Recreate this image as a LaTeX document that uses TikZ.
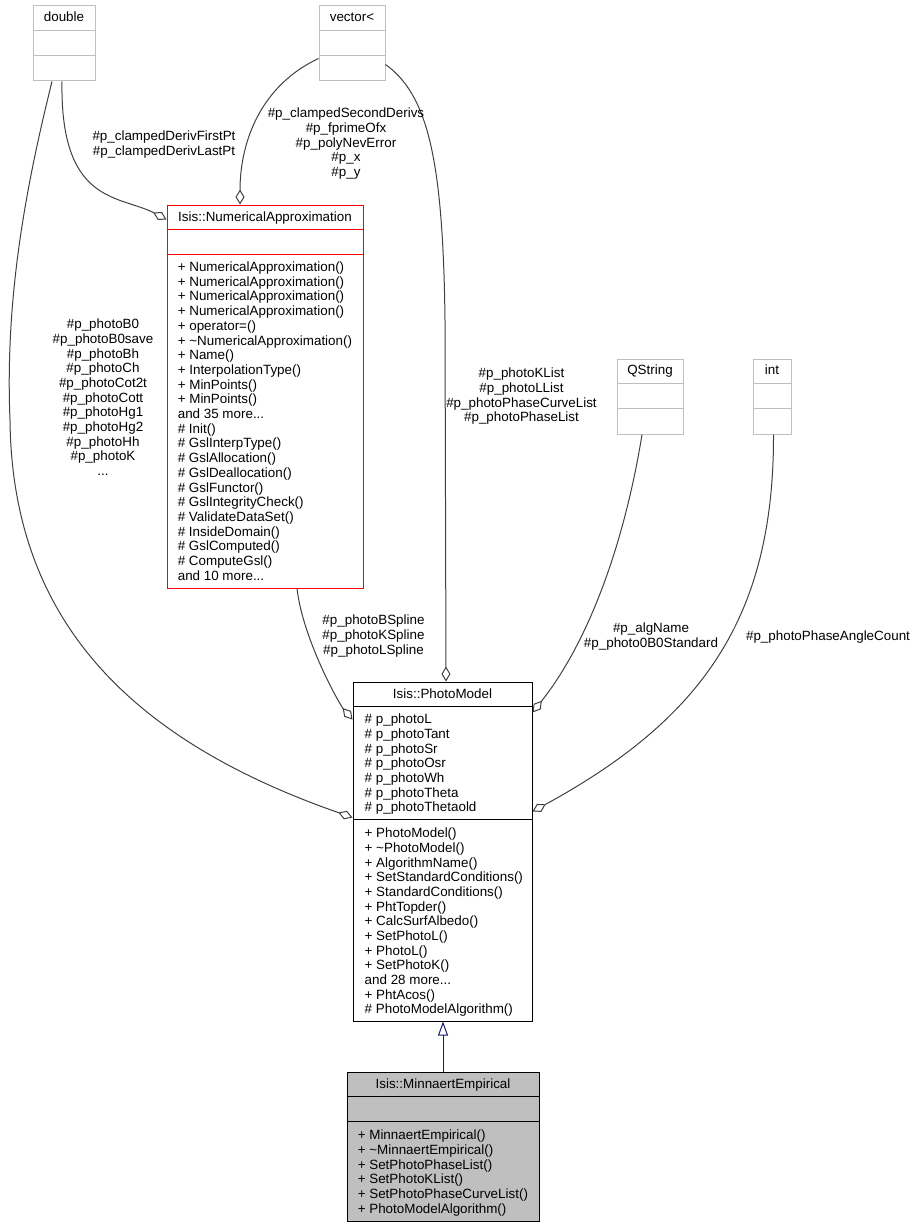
\documentclass[tikz,border=0pt]{standalone}
\usepackage{fontspec}
\setmainfont{Liberation Sans}
\usetikzlibrary{arrows.meta}
\definecolor{edgegray}{HTML}{404040}
\definecolor{boxgray}{HTML}{BFBFBF}
\definecolor{boxred}{HTML}{FF0000}
\definecolor{fillgray}{HTML}{BFBFBF}
\definecolor{navyline}{HTML}{191970}
\newcommand\mydots{...}
\tikzset{
  txt/.style={font=\fontsize{13.4}{14.67}\selectfont, inner sep=0pt},
  mem/.style={txt, anchor=base west},
  ttl/.style={txt, anchor=base},
  lbl/.style={txt, align=center},
  classbox/.style={draw, line width=1pt, inner sep=0pt},
  agg/.style={draw=edgegray, line width=1pt, -{Diamond[open, length=15pt, width=9pt]}},
  inh/.style={draw=navyline, line width=1pt, -{Triangle[open, length=14pt, width=10pt]}},
}
\begin{document}
\begin{tikzpicture}[x=1pt,y=-1pt]
\useasboundingbox (0,0) rectangle (916,1228);

% ---------- double ----------
\node[classbox, draw=boxgray, minimum width=62pt, minimum height=75pt] (dbl) at (64,43.5) {};
\draw[boxgray, line width=1pt] ([yshift=-25pt]dbl.north west) -- ([yshift=-25pt]dbl.north east);
\draw[boxgray, line width=1pt] ([yshift=-50pt]dbl.north west) -- ([yshift=-50pt]dbl.north east);
\node[ttl] (dblT) at ([yshift=-16pt]dbl.north) {double};

% ---------- vector< ----------
\node[classbox, draw=boxgray, minimum width=66pt, minimum height=75pt] (vec) at (352,43.5) {};
\draw[boxgray, line width=1pt] ([yshift=-25pt]vec.north west) -- ([yshift=-25pt]vec.north east);
\draw[boxgray, line width=1pt] ([yshift=-50pt]vec.north west) -- ([yshift=-50pt]vec.north east);
\node[ttl] (vecT) at ([yshift=-16pt]vec.north) {vector<};

% ---------- QString ----------
\node[classbox, draw=boxgray, minimum width=66pt, minimum height=75pt] (qs) at (650,396.5) {};
\draw[boxgray, line width=1pt] ([yshift=-25pt]qs.north west) -- ([yshift=-25pt]qs.north east);
\draw[boxgray, line width=1pt] ([yshift=-50pt]qs.north west) -- ([yshift=-50pt]qs.north east);
\node[ttl] (qsT) at ([yshift=-16pt]qs.north) {QString};

% ---------- int ----------
\node[classbox, draw=boxgray, minimum width=38pt, minimum height=75pt] (int) at (772,396.5) {};
\draw[boxgray, line width=1pt] ([yshift=-25pt]int.north west) -- ([yshift=-25pt]int.north east);
\draw[boxgray, line width=1pt] ([yshift=-50pt]int.north west) -- ([yshift=-50pt]int.north east);
\node[ttl] (intT) at ([yshift=-16pt]int.north) {int};

% ---------- Isis::NumericalApproximation ----------
\node[classbox, draw=boxred, minimum width=196pt, minimum height=383pt] (na) at (265,396.5) {};
\draw[boxred, line width=1pt] ([yshift=-25pt]na.north west) -- ([yshift=-25pt]na.north east);
\draw[boxred, line width=1pt] ([yshift=-50pt]na.north west) -- ([yshift=-50pt]na.north east);
\node[ttl] (naT) at ([yshift=-16.5pt]na.north) {Isis::NumericalApproximation};
\foreach [count=\i] \t in {
  {+ NumericalApproximation()},
  {+ NumericalApproximation()},
  {+ NumericalApproximation()},
  {+ NumericalApproximation()},
  {+ operator=()},
  {+ \textasciitilde NumericalApproximation()},
  {+ Name()},
  {+ InterpolationType()},
  {+ MinPoints()},
  {+ MinPoints()},
  {and 35 more\mydots},
  {\# Init()},
  {\# GslInterpType()},
  {\# GslAllocation()},
  {\# GslDeallocation()},
  {\# GslFunctor()},
  {\# GslIntegrityCheck()},
  {\# ValidateDataSet()},
  {\# InsideDomain()},
  {\# GslComputed()},
  {\# ComputeGsl()},
  {and 10 more\mydots}}
  \node[mem] (naM\i) at ({177.6},{271.5+14.7*(\i-1)}) {\t};

% ---------- Isis::PhotoModel ----------
\node[classbox, draw=black, minimum width=179pt, minimum height=339pt] (pm) at (442.5,851.5) {};
\draw[black, line width=1pt] ([yshift=-25pt]pm.north west) -- ([yshift=-25pt]pm.north east);
\draw[black, line width=1pt] ([yshift=-138pt]pm.north west) -- ([yshift=-138pt]pm.north east);
\node[ttl] (pmT) at ([yshift=-16.5pt]pm.north) {Isis::PhotoModel};
\foreach [count=\i] \t in {
  {\# p\_photoL},
  {\# p\_photoTant},
  {\# p\_photoSr},
  {\# p\_photoOsr},
  {\# p\_photoWh},
  {\# p\_photoTheta},
  {\# p\_photoThetaold}}
  \node[mem] (pmA\i) at ({364.5},{723.8+14.67*(\i-1)}) {\t};
\foreach [count=\i] \t in {
  {+ PhotoModel()},
  {+ \textasciitilde PhotoModel()},
  {+ AlgorithmName()},
  {+ SetStandardConditions()},
  {+ StandardConditions()},
  {+ PhtTopder()},
  {+ CalcSurfAlbedo()},
  {+ SetPhotoL()},
  {+ PhotoL()},
  {+ SetPhotoK()},
  {and 28 more\mydots},
  {+ PhtAcos()},
  {\# PhotoModelAlgorithm()}}
  \node[mem] (pmM\i) at ({364.5},{837.8+14.67*(\i-1)}) {\t};

% ---------- Isis::MinnaertEmpirical ----------
\node[classbox, draw=black, fill=fillgray, minimum width=192pt, minimum height=149pt] (me) at (443,1146.5) {};
\draw[black, line width=1pt] ([yshift=-25pt]me.north west) -- ([yshift=-25pt]me.north east);
\draw[black, line width=1pt] ([yshift=-50pt]me.north west) -- ([yshift=-50pt]me.north east);
\node[ttl] (meT) at ([yshift=-16.5pt]me.north) {Isis::MinnaertEmpirical};
\foreach [count=\i] \t in {
  {+ MinnaertEmpirical()},
  {+ \textasciitilde MinnaertEmpirical()},
  {+ SetPhotoPhaseList()},
  {+ SetPhotoKList()},
  {+ SetPhotoPhaseCurveList()},
  {+ PhotoModelAlgorithm()}}
  \node[mem] (meM\i) at ({357.6},{1139.8+14.67*(\i-1)}) {\t};

% ---------- connectors ----------
% double -> NumericalApproximation
\draw[agg] ([xshift=-2pt]dbl.south) .. controls (60,205) and (120,195) .. ([yshift=-15pt]na.north west);
% vector -> NumericalApproximation
\draw[agg] ([yshift=-53pt]vec.north west) .. controls (262,85) and (240,140) .. ([xshift=-25pt]na.north);
% vector -> PhotoModel
\draw[agg] ([yshift=-59pt]vec.north east) .. controls (428,95) and (443,160) .. (445,320) -- ([xshift=3.5pt]pm.north);
% double -> PhotoModel
\draw[agg] ([xshift=-12pt]dbl.south) .. controls (25,190) and (5,300) .. (10,420)
  .. controls (12,620) and (130,740) .. ([yshift=-136pt]pm.north west);
% NumericalApproximation -> PhotoModel
\draw[agg] ([xshift=32pt]na.south) .. controls (303,640) and (340,705) .. ([yshift=-38pt]pm.north west);
% QString -> PhotoModel
\draw[agg] ([xshift=-8pt]qs.south) .. controls (625,540) and (590,640) .. ([yshift=-31pt]pm.north east);
% int -> PhotoModel
\draw[agg] ([xshift=1.5pt]int.south) .. controls (774,620) and (700,720) .. ([yshift=-130pt]pm.north east);
% MinnaertEmpirical -> PhotoModel (inheritance)
\draw[inh] (me.north) -- (me.north |- pm.south);

% ---------- connector labels ----------
\node[lbl] (l1) at (164,144.5) {\#p\_clampedDerivFirstPt\\\#p\_clampedDerivLastPt};
\node[lbl] (l2) at (346,143.8) {\#p\_clampedSecondDerivs\\\#p\_fprimeOfx\\\#p\_polyNevError\\\#p\_x\\\#p\_y};
\node[lbl] (l3) at (103,397.3) {\#p\_photoB0\\\#p\_photoB0save\\\#p\_photoBh\\\#p\_photoCh\\\#p\_photoCot2t\\\#p\_photoCott\\\#p\_photoHg1\\\#p\_photoHg2\\\#p\_photoHh\\\#p\_photoK\\\mydots};
\node[lbl] (l4) at (521.5,396.5) {\#p\_photoKList\\\#p\_photoLList\\\#p\_photoPhaseCurveList\\\#p\_photoPhaseList};
\node[lbl] (l5) at (373.5,636) {\#p\_photoBSpline\\\#p\_photoKSpline\\\#p\_photoLSpline};
\node[lbl] (l6) at (651,636.5) {\#p\_algName\\\#p\_photo0B0Standard};
\node[lbl] (l7) at (828,637) {\#p\_photoPhaseAngleCount};
\end{tikzpicture}
\end{document}
